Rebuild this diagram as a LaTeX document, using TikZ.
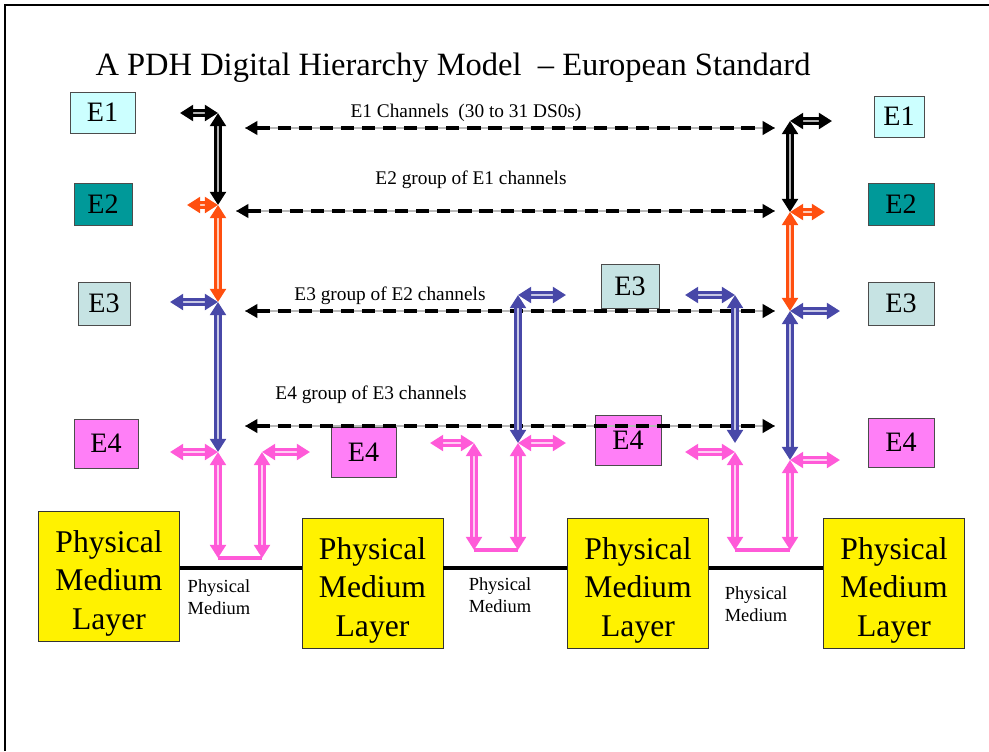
\documentclass[tikz,border=0pt]{standalone}
\usepackage{fontspec}
\setmainfont{Liberation Serif}
\usetikzlibrary{arrows.meta}
\definecolor{eone}{HTML}{CCFFFF}
\definecolor{etwo}{HTML}{009999}
\definecolor{ethree}{HTML}{C6E3E3}
\definecolor{efour}{HTML}{FF7FF7}
\definecolor{orng}{HTML}{FF4F0F}
\definecolor{blu}{HTML}{4848A8}
\definecolor{pnk}{HTML}{FF5AD8}
\newcommand{\pml}{\raisebox{-4pt}[\height][\depth]{\begin{tabular}{@{}c@{}}Physical\\Medium\\Layer\end{tabular}}}

\begin{document}
\begin{tikzpicture}[x=0.02cm, y=-0.02cm,
    ebox/.style={draw=black!70, fill=#1, inner sep=0pt, font=\fontsize{16}{19}\selectfont},
    layer/.style={draw=black!80, fill=yellow, minimum width=2.82cm, minimum height=2.6cm,
      inner sep=0pt, font=\fontsize{18}{22}\selectfont},
    chan/.style={>={Triangle[length=7pt,width=7.5pt]}, <->, line width=2.6pt, dash pattern=on 7.5pt off 4.5pt},
    arr/.style={>={Triangle[length=7.5pt,width=9pt]}, <->, draw=#1, line width=1.7pt,
      double=#1!30!white, double distance=0.7pt},
    base/.style={draw=#1, line width=2.4pt},
    small/.style={font=\fontsize{10.5}{12.5}\selectfont, align=center},
    lbl/.style={font=\fontsize{11}{13}\selectfont}]
    \useasboundingbox (0,0) rectangle (989,751);
    \draw[line width=1.6pt] (5,751) -- (5,5) -- (989,5);
    \node (title) at (453,68) {\fontsize{18.5}{22}\selectfont A PDH Digital Hierarchy Model\ \ – European Standard};

    % E boxes
    \node[ebox=eone, minimum width=1.30cm, minimum height=0.82cm] (e1l) at (102.5,112.5) {E1};
    \node[ebox=etwo, minimum width=1.16cm, minimum height=0.84cm] (e2l) at (103,204) {E2};
    \node[ebox=ethree, minimum width=1.04cm, minimum height=0.86cm] (e3l) at (104,303.5) {E3};
    \node[ebox=efour, minimum width=1.28cm, minimum height=0.98cm] (e4l) at (106,443.5) {E4};
    \node[ebox=efour, minimum width=1.30cm, minimum height=1.00cm] (e4a) at (363.5,452) {E4};
    \node[ebox=ethree, minimum width=1.16cm, minimum height=0.88cm] (e3m) at (630,286) {E3};
    \node[ebox=efour, minimum width=1.32cm, minimum height=1.00cm] (e4b) at (628,440) {E4};
    \node[ebox=eone, minimum width=1.00cm, minimum height=0.82cm] (e1r) at (899,116.5) {E1};
    \node[ebox=etwo, minimum width=1.32cm, minimum height=0.84cm] (e2r) at (901,204) {E2};
    \node[ebox=ethree, minimum width=1.32cm, minimum height=0.86cm] (e3r) at (901,303.5) {E3};
    \node[ebox=efour, minimum width=1.32cm, minimum height=0.98cm] (e4r) at (901,442.5) {E4};

    % physical medium layers
    \node[layer] (p1) at (109,576) {\pml};
    \node[layer] (p2) at (372.5,583) {\pml};
    \node[layer] (p3) at (638,583) {\pml};
    \node[layer] (p4) at (894,583) {\pml};
    \draw[base=black] (p1.east |- 0,568) -- (p2.west |- 0,568);
    \draw[base=black] (p2.east |- 0,568) -- (p3.west |- 0,568);
    \draw[base=black] (p3.east |- 0,568) -- (p4.west |- 0,568);
    \node[small] (m1) at (219,597) {Physical\\Medium};
    \node[small] (m2) at (500,595) {Physical\\Medium};
    \node[small] (m3) at (756,604) {Physical\\Medium};

    % channel groups
    \foreach \i/\x/\y in {1/245/128, 2/236/211, 3/245/311, 4/245/426}{
        \coordinate (ca\i) at (\x,\y);
        \coordinate (cb\i) at (775,\y);
        \draw[gray!55, line width=0.6pt] (ca\i) -- (cb\i);
        \draw[chan] (ca\i) -- (cb\i);
    }
    \node[lbl] (t1) at (466,113) {E1 Channels\ \ (30 to 31 DS0s)};
    \node[lbl] (t2) at (471,180) {E2 group of E1 channels};
    \node[lbl] (t3) at (390,296) {E3 group of E2 channels};
    \node[lbl] (t4) at (371,395) {E4 group of E3 channels};

    % multiplexer points
    \foreach \n/\x/\y in {L1/218/113, L1w/180/113, L2/218/205, L2w/187/205, L3/218/302, L3w/170/302,
        L4/218/452, L4w/170/452, L5/218/558, L6/262/558, L7/262/452, L7e/310/452,
        M1/518/295, M1e/566/295, M2/518/443, M2e/566/443, M3/474/443, M3w/430/443, M4/474/550, M5/518/550,
        N1/735/295, N1w/685/295, N2/735/443, N3/735/452, N3w/685/452, N4/735/550, N5/790/550,
        R1/790/121, R1e/832/121, R2/790/212, R2e/825/212, R3/790/311, R3e/840/311, R4/790/460, R4e/840/460}
        \coordinate (\n) at (\x,\y);
    \draw[base=pnk, line width=2.4pt] (L5) -- (L6);
    \draw[base=pnk, line width=2.4pt] (M4) -- (M5);
    \draw[base=pnk, line width=2.4pt] (N4) -- (N5);
    \foreach \a/\b/\c in {L1w/L1/black, L1/L2/black, L2w/L2/orng, L2/L3/orng, L3w/L3/blu, L3/L4/blu,
        L4w/L4/pnk, L4/L5/pnk, L6/L7/pnk, L7/L7e/pnk,
        M1/M1e/blu, M1/M2/blu, M3w/M3/pnk, M3/M4/pnk, M5/M2/pnk, M2/M2e/pnk,
        N1w/N1/blu, N1/N2/blu, N3w/N3/pnk, N3/N4/pnk, N5/R4/pnk,
        R1/R1e/black, R1/R2/black, R2/R2e/orng, R2/R3/orng, R3/R3e/blu, R3/R4/blu, R4/R4e/pnk}
        \draw[arr=\c] (\a) -- (\b);
\end{tikzpicture}
\end{document}
